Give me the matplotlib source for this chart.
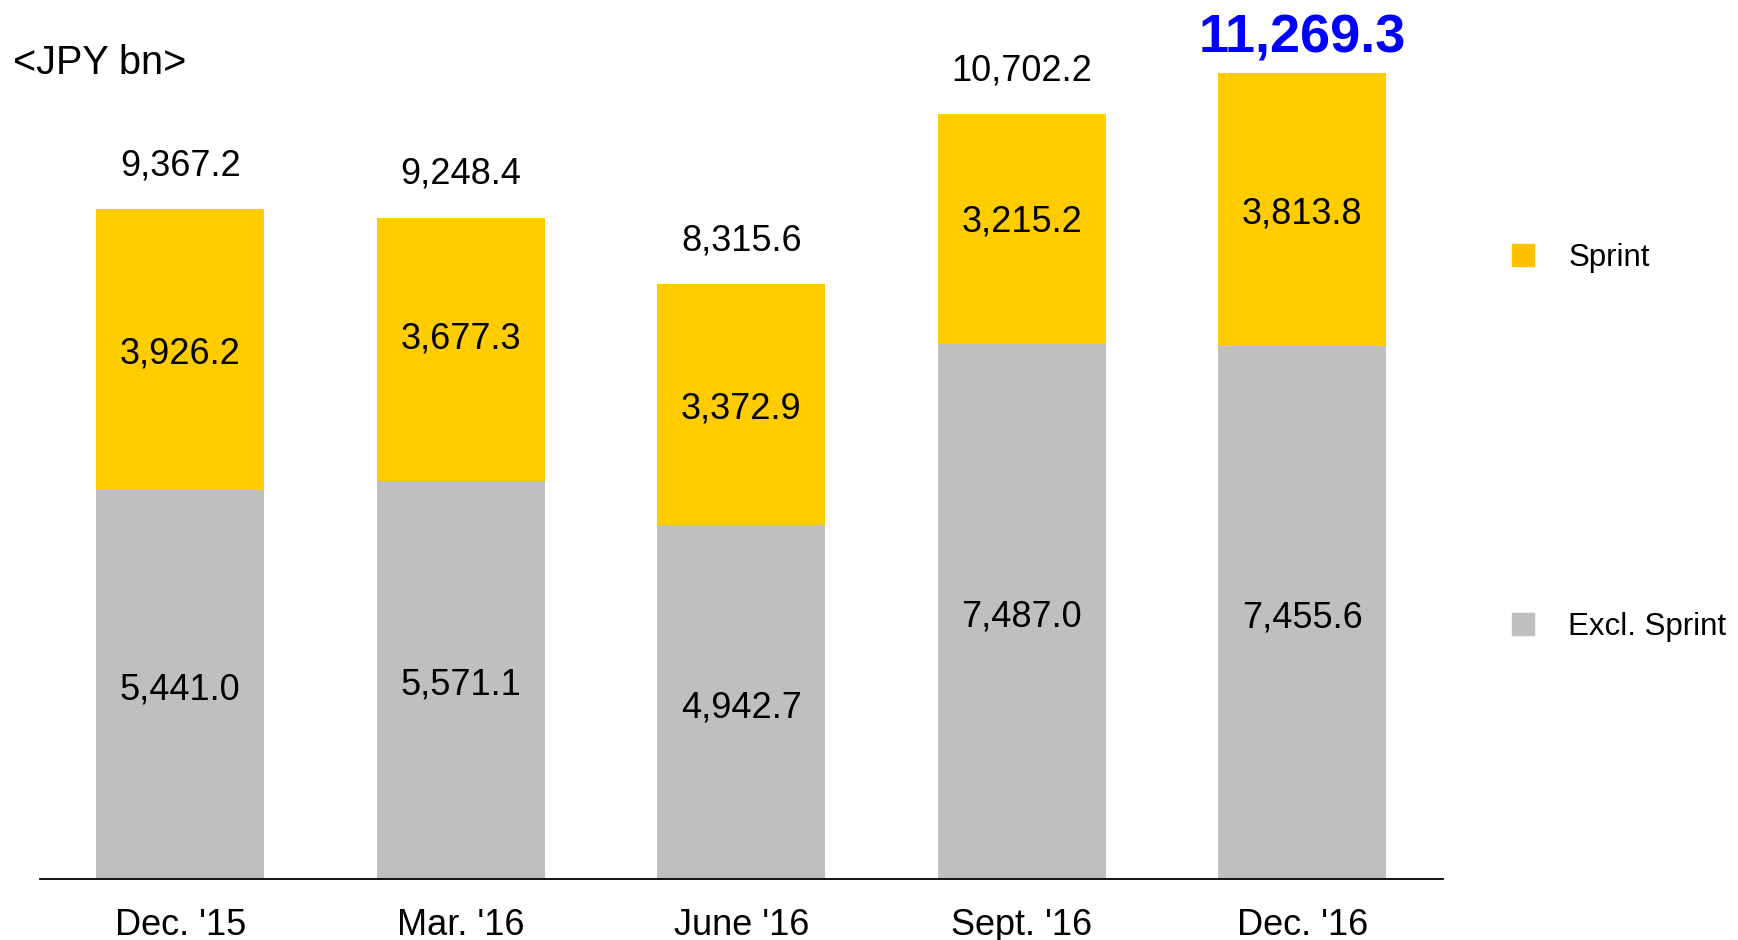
import matplotlib.pyplot as plt
from matplotlib.patches import Patch

plt.rcParams['font.family'] = ['Liberation Sans', 'DejaVu Sans']

quarters = ["Dec. '15", "Mar. '16", "June '16", "Sept. '16", "Dec. '16"]
excl_sprint = [5441.0, 5571.1, 4942.7, 7487.0, 7455.6]
sprint = [3926.2, 3677.3, 3372.9, 3215.2, 3813.8]
totals = [9367.2, 9248.4, 8315.6, 10702.2, 11269.3]
# small vertical nudges (points) seen on the Sprint labels in the source
sprint_nudge = [0, 10, 0, 8, 0]

grey = '#BFBFBF'
gold = '#FFCC00'
gold_legend = '#FFC000'

fig = plt.figure(figsize=(17.38, 9.40), dpi=100)
ax = fig.add_axes([0.023, 0.0649, 0.807, 0.9351])

x = range(len(quarters))
ax.bar(x, excl_sprint, width=0.6, color=grey, zorder=2)
ax.bar(x, sprint, width=0.6, bottom=excl_sprint, color=gold, zorder=2)

for i in x:
    ax.annotate(f'{excl_sprint[i]:,.1f}', (i, excl_sprint[i] / 2), xytext=(0, -4),
                textcoords='offset points', ha='center', va='center', fontsize=26)
    ax.annotate(f'{sprint[i]:,.1f}', (i, excl_sprint[i] + sprint[i] / 2),
                xytext=(0, sprint_nudge[i] - 3), textcoords='offset points',
                ha='center', va='center', fontsize=26)
    if i < len(quarters) - 1:
        ax.annotate(f'{totals[i]:,.1f}', (i, totals[i]), xytext=(0, 31),
                    textcoords='offset points', ha='center', va='center', fontsize=26)
    else:
        ax.annotate(f'{totals[i]:,.1f}', (i, totals[i]), xytext=(0, 25),
                    textcoords='offset points', ha='center', va='center',
                    fontsize=39, fontweight='bold', color='#0000FF')

ax.set_xlim(-0.5, 4.5)
ax.set_ylim(0, 12290)
ax.set_xticks(list(x))
ax.set_xticklabels(quarters, fontsize=26)
ax.tick_params(axis='x', length=0, pad=21)
ax.set_yticks([])
for s in ['top', 'right', 'left']:
    ax.spines[s].set_visible(False)
ax.spines['bottom'].set_linewidth(1.3)

fig.text(0.0075, 0.933, '<JPY bn>', fontsize=28.5, va='center', ha='left')

handles = [Patch(color=gold_legend, label='Sprint'), Patch(color=grey, label='Excl. Sprint')]
fig.legend(handles=handles, loc='center left', bbox_to_anchor=(0.870, 0.529),
           frameon=False, fontsize=22.5, handlelength=0.7, handleheight=0.7,
           handletextpad=1.1, labelspacing=10.85, borderpad=0, borderaxespad=0)

plt.savefig('out.png', dpi=100)
